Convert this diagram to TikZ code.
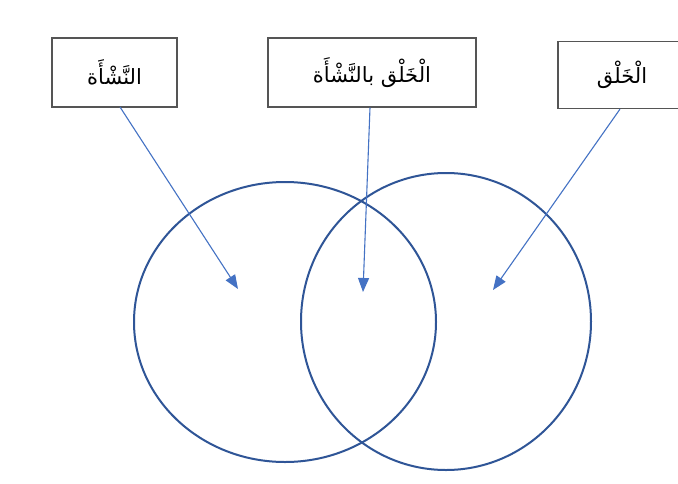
\documentclass[tikz,border=0pt]{standalone}
\usepackage{fontspec}
\newfontfamily\arabicfont[Script=Arabic]{DejaVu Sans}
\TeXXeTstate=1
\usetikzlibrary{arrows.meta,shapes.geometric}
\definecolor{circ}{HTML}{2F5597}
\definecolor{arr}{HTML}{4472C4}
\definecolor{boxc}{HTML}{555555}
\tikzset{
  lbl/.style={draw=boxc, line width=1.2pt, fill=white, inner sep=0pt, minimum height=69pt, font=\arabicfont\fontsize{21}{25}\selectfont},
  venn/.style={draw=circ, line width=2pt, ellipse, inner sep=0pt},
  pointer/.style={draw=arr, line width=1.1pt, -{Triangle[length=14pt,width=11pt]}}
}
\begin{document}
\begin{tikzpicture}[x=1pt,y=-1pt]
\useasboundingbox[fill=white] (0,0) rectangle (678,483);
\node[venn, minimum width=302pt, minimum height=280pt] (L) at (285,322) {};
\node[venn, minimum width=290pt, minimum height=297pt] (R) at (446,321.5) {};
\node[lbl, minimum width=125pt] (a) at (114.5,72.5) {\raisebox{-4pt}{\beginR النَّشْأَة\endR}};
\node[lbl, minimum width=208pt] (b) at (372,72.5) {\raisebox{-4pt}{\beginR الْخَلْق بالنَّشْأَة\endR}};
\node[lbl, minimum width=128pt, minimum height=67pt] (c) at (622,75) {\raisebox{-4pt}{\beginR الْخَلْق\endR}};
\coordinate (pa) at (238,289);
\coordinate (pb) at (363,292);
\coordinate (pc) at (493,290);
\draw[pointer] (120,107) -- (pa);
\draw[pointer] (b.south -| 370,0) -- (pb);
\draw[pointer] (c.south -| 620,0) -- (pc);
\end{tikzpicture}
\end{document}
